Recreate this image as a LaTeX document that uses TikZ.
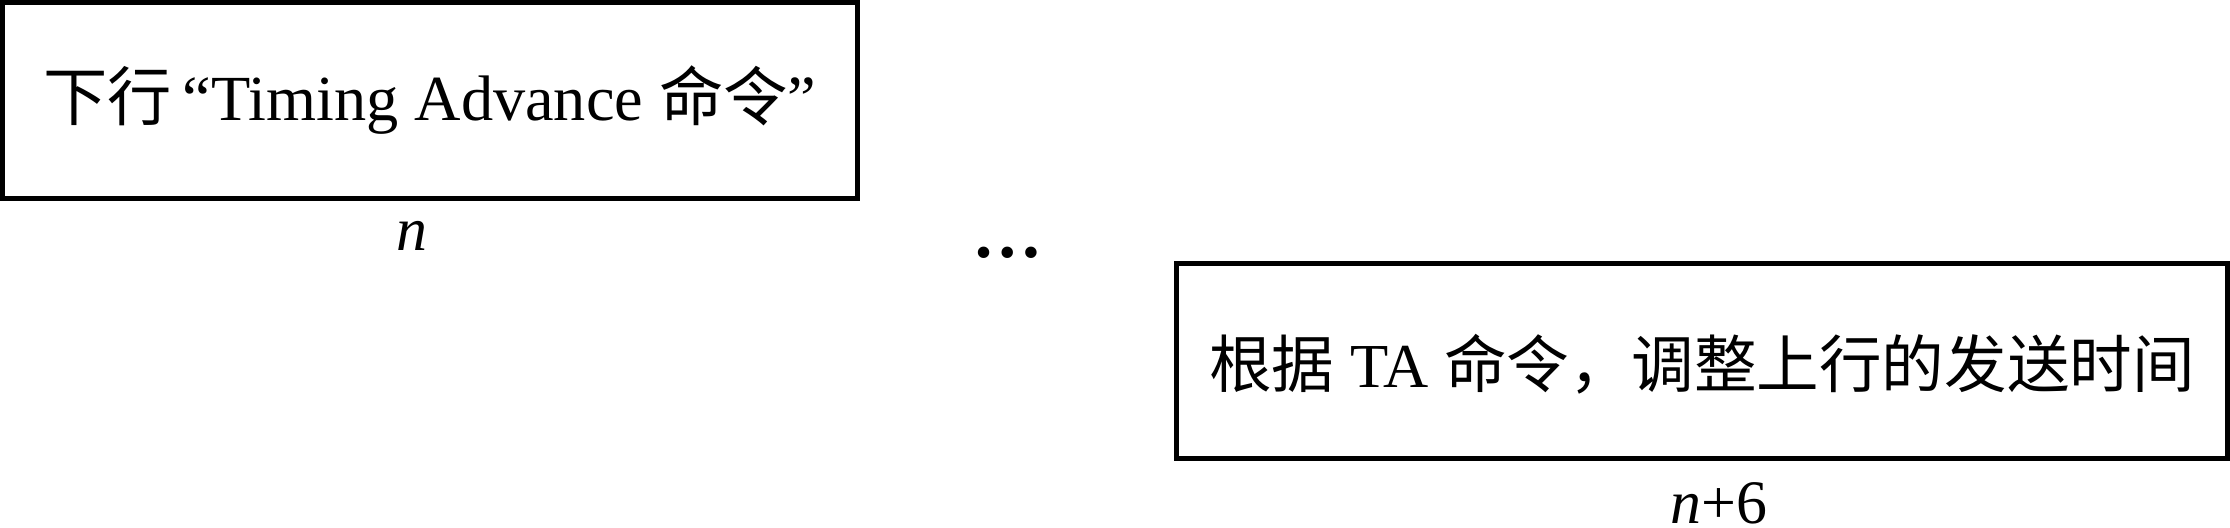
\documentclass[tikz,border=0pt]{standalone}
\usepackage{fontspec}
\setmainfont{Liberation Serif}
\newfontfamily\cjk{Noto Sans CJK SC}
\begin{document}
\begin{tikzpicture}[x=0.1mm,y=-0.1mm,
  boxline/.style={draw=black,line width=0.5mm},
  boxtext/.style={font=\fontsize{17.8}{22}\selectfont,inner sep=0pt},
  steplabel/.style={font=\fontsize{17.6}{20}\selectfont,inner sep=0pt,anchor=base}]
\useasboundingbox (0,0) rectangle (2230,528);
\draw[boxline] (2.5,2.5) rectangle (857.5,198.5);
\draw[boxline] (1176.5,263.5) rectangle (2227.5,458.5);
\node[boxtext,font=\fontsize{18.3}{22}\selectfont] (t1) at (430,100) {{\cjk 下行}\,“Timing Advance {\cjk 命令}”};
\node[boxtext] (t2) at (1702,364) {{\cjk 根据} TA {\cjk 命令，调整上行的发送时间}};
\node[steplabel] (n1) at (412,251) {\textit{n}};
\node[font=\fontsize{20}{24}\selectfont\bfseries,inner sep=0pt,anchor=base] (dots) at (1008,257) {…};
\node[steplabel] (n2) at (1719,523) {\textit{n}+6};
\end{tikzpicture}
\end{document}
